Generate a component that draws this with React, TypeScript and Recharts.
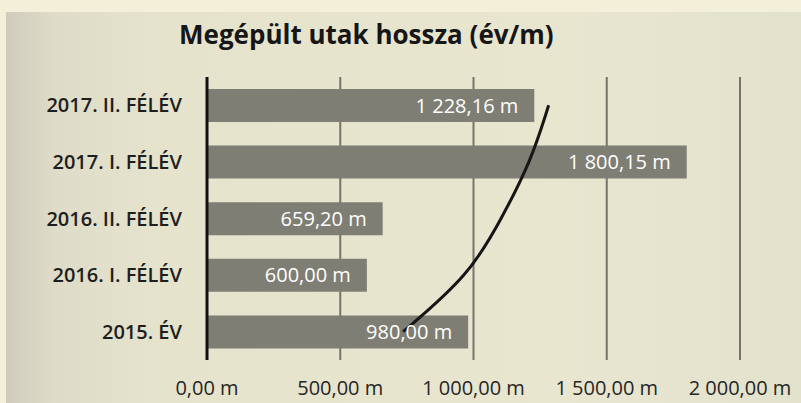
import React from 'react';
import { ComposedChart, Bar, Line, XAxis, YAxis, CartesianGrid, LabelList } from 'recharts';

const categories = ['2017. II. FÉLÉV', '2017. I. FÉLÉV', '2016. II. FÉLÉV', '2016. I. FÉLÉV', '2015. ÉV'];
const lengths = [1228.16, 1800.15, 659.2, 600.0, 980.0];
const curveValues = [1282, 1215, 1105, 985, 736];
const xTicks = [0, 500, 1000, 1500, 2000];

const data = categories.map((c, i) => ({ name: c, value: lengths[i], curve: curveValues[i] }));

const fmt = (v: number) => {
  const [i, d] = Number(v).toFixed(2).split('.');
  const ii = i.replace(/\B(?=(\d{3})+(?!\d))/g, ' ');
  return `${ii},${d} m`;
};

const FONT = '"Open Sans", "DejaVu Sans", sans-serif';

export default function App() {
  return (
    <div style={{ position: 'absolute', left: 0, top: 0, width: 801, height: 403, background: '#f3efd9', overflow: 'hidden' }}>
      <div
        style={{
          position: 'absolute',
          left: 6,
          top: 12,
          width: 795,
          height: 391,
          background: 'linear-gradient(to right, #cfccbd 0%, #dedbc8 6%, #e6e3cd 20%, #e9e6d0 70%, #e2e2cc 100%)',
        }}
      />
      <div
        style={{
          position: 'absolute',
          left: 179,
          top: 16,
          fontFamily: FONT,
          fontWeight: 700,
          fontSize: 26,
          color: '#161616',
          whiteSpace: 'nowrap',
        }}
      >
        Megépült utak hossza (év/m)
      </div>
      <div style={{ position: 'absolute', left: 0, top: 0 }}>
        <ComposedChart
          width={801}
          height={403}
          data={data}
          layout="vertical"
          margin={{ top: 77, right: 61, bottom: 13, left: 0 }}
        >
          <CartesianGrid horizontal={false} vertical={true} stroke="#74746c" strokeWidth={2} />
          <XAxis
            type="number"
            domain={[0, 2000]}
            ticks={xTicks}
            tickFormatter={fmt}
            axisLine={false}
            tickLine={false}
            tickSize={0}
            tickMargin={21}
            height={30}
            interval={0}
            tick={{ fill: '#262626', fontSize: 20, fontFamily: FONT }}
          />
          <YAxis
            type="category"
            dataKey="name"
            width={207}
            axisLine={{ stroke: '#111', strokeWidth: 3 }}
            tickLine={false}
            tickSize={0}
            tickMargin={25}
            tick={{ fill: '#1e1e1e', fontSize: 20, fontFamily: FONT, fontWeight: 600 }}
          />
          <Bar dataKey="value" fill="#7f7e74" barSize={33} isAnimationActive={false}>
            <LabelList
              dataKey="value"
              position="insideRight"
              offset={16}
              formatter={(v: any) => fmt(v)}
              fill="#ffffff"
              style={{ fontSize: 20, fontFamily: FONT, fontWeight: 500 }}
            />
          </Bar>
          <Line
            dataKey="curve"
            type="basis"
            stroke="#161616"
            strokeWidth={3}
            dot={false}
            activeDot={false}
            isAnimationActive={false}
          />
        </ComposedChart>
      </div>
    </div>
  );
}
